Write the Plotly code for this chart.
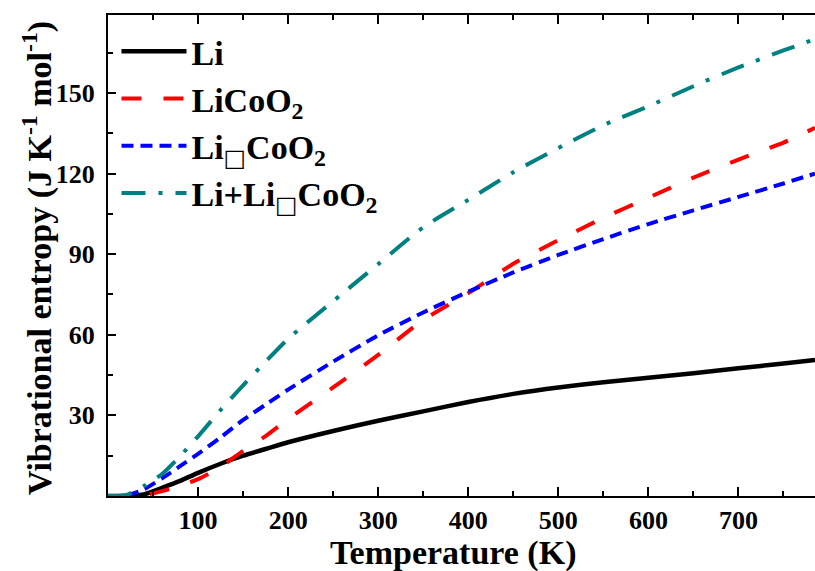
import plotly.graph_objects as go

# Temperature grid (K)
temperature = [0, 20, 40, 60, 80, 100, 125, 150, 175, 200, 250, 300, 350, 400,
               450, 500, 550, 600, 650, 700, 750, 785]

# Vibrational entropy (J K^-1 mol^-1)
s_li = [0, 0.1, 0.6, 3.0, 5.6, 8.6, 12.0, 15.0, 17.5, 20.0, 24.2, 28.0, 31.5, 35.0,
        38.0, 40.4, 42.3, 44.0, 45.7, 47.5, 49.3, 50.6]
s_licoo2 = [0, 0, 0.3, 1.8, 3.8, 6.3, 10.8, 16.8, 22.3, 28.6, 40.4, 52.5, 65.5, 75.5,
            86.4, 95.2, 103.5, 111.0, 118.5, 125.2, 131.5, 137.0]
s_livcoo2 = [0, 0.2, 2.5, 6.6, 11.1, 15.7, 21.8, 28.3, 34.0, 39.6, 50.0, 59.8, 68.3, 76.0,
             83.2, 89.7, 95.6, 101.2, 106.3, 111.3, 116.3, 120.0]
s_sum = [0, 0.3, 3.8, 8.2, 14.8, 22.2, 32.0, 41.2, 50.0, 58.5, 72.5, 86.3, 100.0, 110.2,
         120.5, 129.5, 138.0, 145.0, 152.5, 159.5, 165.8, 170.0]

BOX = '<span style="font-family:DejaVu Sans;font-weight:bold">\u25a1</span>'
names = ["Li", "LiCoO<sub>2</sub>", "Li<sub>" + BOX + "</sub>CoO<sub>2</sub>",
         "Li+Li<sub>" + BOX + "</sub>CoO<sub>2</sub>"]

x_tick_labels = ["", "100", "200", "300", "400", "500", "600", "700"]
x_tick_vals = [0, 100, 200, 300, 400, 500, 600, 700]
y_tick_labels = ["", "30", "60", "90", "120", "150"]
y_tick_vals = [0, 30, 60, 90, 120, 150]

x_title = "Temperature (K)"
y_title = "Vibrational entropy (J K<sup>-1</sup> mol<sup>-1</sup>)"

FONT = "Liberation Serif"

fig = go.Figure()
styles = [
    dict(color="black", width=4.5, dash="solid"),
    dict(color="#ff0000", width=4, dash="20px,22px"),
    dict(color="#0000ff", width=4, dash="12px,7px"),
    dict(color="#008080", width=4, dash="24px,13px,4px,13px"),
]
for i, (name, ys, st) in enumerate(zip(names, [s_li, s_licoo2, s_livcoo2, s_sum], styles)):
    fig.add_trace(go.Scatter(x=temperature, y=ys, mode="lines", name=name,
                             legendgroup=f"g{i}",
                             line=dict(shape="spline", smoothing=0.6, **st)))

fig.update_layout(
    width=815, height=571,
    margin=dict(l=108, r=0, t=15, b=75, autoexpand=False),
    paper_bgcolor="white", plot_bgcolor="white",
    font=dict(family=FONT, color="black"),
    showlegend=True,
    legend=dict(x=0.012, y=0.984, xanchor="left", yanchor="top",
                bgcolor="rgba(0,0,0,0)", itemwidth=65,
                font=dict(family=FONT, size=34, weight="bold"),
                tracegroupgap=0),
    annotations=[
        dict(text=x_title, xref="paper", yref="paper", x=0.488, y=-0.118,
             xanchor="center", yanchor="middle", showarrow=False,
             font=dict(family=FONT, size=34, weight="bold")),
        dict(text=y_title, xref="paper", yref="paper", x=-0.099, y=0.495,
             xanchor="center", yanchor="middle", showarrow=False, textangle=-90,
             font=dict(family=FONT, size=34, weight="bold")),
    ],
)
fig.update_xaxes(
    range=[0, 785], showgrid=False, zeroline=False, automargin=False,
    showline=True, linecolor="black", linewidth=2, mirror="ticks",
    ticks="inside", ticklen=9, tickwidth=2, tickcolor="black",
    tickmode="array", tickvals=x_tick_vals, ticktext=x_tick_labels,
    minor=dict(tickmode="linear", tick0=0, dtick=50, ticks="inside", ticklen=5,
               tickwidth=2, tickcolor="black"),
    tickfont=dict(family=FONT, size=26, weight="bold"),
    ticklabelstandoff=0,
)
fig.update_yaxes(
    range=[0, 179], showgrid=False, zeroline=False, automargin=False,
    showline=True, linecolor="black", linewidth=2,
    ticks="inside", ticklen=8, tickwidth=2, tickcolor="black",
    tickmode="array", tickvals=y_tick_vals, ticktext=y_tick_labels,
    minor=dict(tickmode="linear", tick0=0, dtick=15, ticks="inside", ticklen=5,
               tickwidth=2, tickcolor="black"),
    tickfont=dict(family=FONT, size=26, weight="bold"),
    ticklabelstandoff=6,
)
fig.write_html(
    "out.html",
    config={"displayModeBar": False},
    post_script="document.body.style.margin='0';document.body.style.overflow='hidden';",
)
